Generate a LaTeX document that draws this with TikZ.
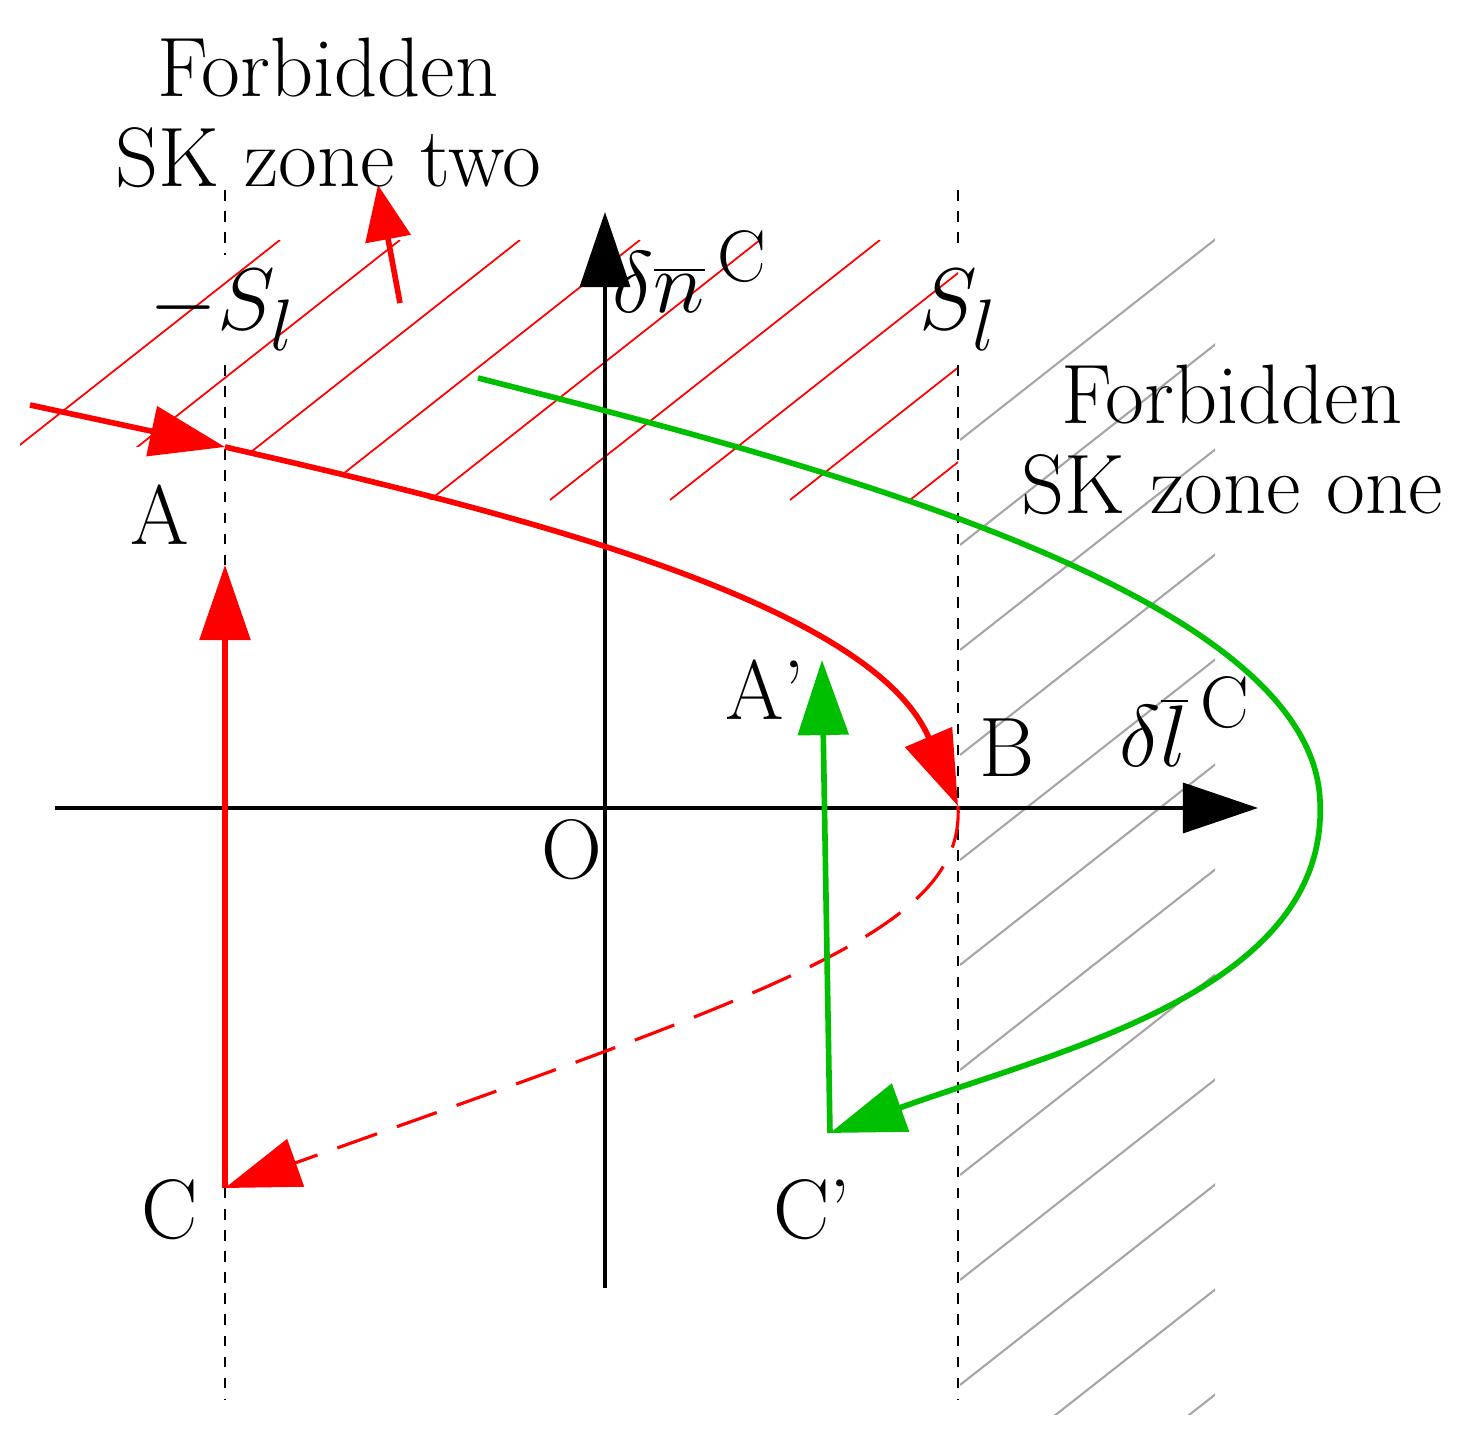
\documentclass[tikz,border=0pt]{standalone}
\usetikzlibrary{arrows.meta}
\begin{document}
\begin{tikzpicture}[x=0.01cm,y=-0.01cm,
  big/.style={-{Triangle[length=0.75cm,width=0.5cm]}},
  axis/.style={line width=1pt,big},
  redl/.style={red,line width=1.6pt},
  grnl/.style={green!75!black,line width=1.6pt},
  hatchr/.style={red,line width=0.5pt},
  hatchg/.style={gray!70,line width=0.6pt},
  guide/.style={dashed,line width=0.6pt},
  lab/.style={font=\fontsize{24}{28}\selectfont},
  mlab/.style={font=\fontsize{30}{34}\selectfont}]
\useasboundingbox (0,0) rectangle (1465,1437);
% hatching red
\begin{scope}
\clip (20,240) -- (958,240) -- (958,805) -- (935,755) -- (900,710) -- (850,668) -- (800,640) -- (745,615) -- (640,570) -- (540,530) -- (450,505) -- (350,478) -- (225,447) -- (20,447) -- cycle;
\foreach \b in {0,120,240,360,480,600,720,840,960} {
  \draw[hatchr] (\b-50,500) -- (\b+280,240);
}
\end{scope}
% gray hatching
\begin{scope}
\clip (960,235) rectangle (1215,1415);
\foreach \k in {0,...,11} {
  \draw[hatchg] (960,440+\k*105) -- (1240,220+\k*105);
}
\end{scope}
% guides
\draw[guide] (225,190) -- (225,255);
\draw[guide] (225,365) -- (225,1400);
\draw[guide] (958,190) -- (958,245);
\draw[guide] (958,365) -- (958,1400);
% axes
\coordinate (xs) at (55,808); \coordinate (xe) at (1258,808);
\coordinate (ys) at (605,1288); \coordinate (ye) at (605,212);
\draw[axis] (xs) -- (xe);
\draw[axis] (ys) -- (ye);
% red
\coordinate (A) at (225,447); \coordinate (B) at (958,806); \coordinate (C) at (225,1188);
\coordinate (Ain) at (30,405); \coordinate (Cup) at (225,565);
\draw[redl,dash pattern=on 40pt off 12pt,big] (Ain) -- (A);
\draw[redl,big] (A) .. controls (500,510) and (870,600) .. (B);
\draw[red,line width=0.9pt,dash pattern=on 12pt off 6pt,big] (B) .. controls (965,930) and (780,990) .. (C);
\draw[redl,big] (C) -- (Cup);
\coordinate (s1) at (400,303); \coordinate (s2) at (378,185);
\draw[red,line width=1.6pt,-{Triangle[length=0.55cm,width=0.45cm]}] (s1) -- (s2);
% green
\coordinate (G0) at (478,378); \coordinate (G1) at (1320,800); \coordinate (Cp) at (830,1133); \coordinate (Ap) at (822,660);
\draw[grnl] (G0) .. controls (800,460) and (1310,590) .. (G1);
\draw[grnl,big] (G1) .. controls (1330,990) and (1060,1050) .. (Cp);
\draw[grnl,big] (Cp) -- (Ap);
% labels
\node[lab] (t1) at (328,68) {Forbidden};
\node[lab] (t2) at (328,158) {SK zone two};
\node[lab] (t3) at (1232,395) {Forbidden};
\node[lab] (t4) at (1232,485) {SK zone one};
\node[mlab] (ln) at (690,272) {$\delta\overline{n}^{\,\mathrm{C}}$};
\node[mlab] (lm) at (222,310) {$-S_l$};
\node[mlab] (lp) at (958,310) {$S_l$};
\node[mlab] (ll) at (1185,722) {$\delta\overline{l}^{\,\mathrm{C}}$};
\node[lab] (la) at (160,515) {A};
\node[lab] (lap) at (765,690) {A'};
\node[lab] (lb) at (1007,748) {B};
\node[lab] (lo) at (572,850) {O};
\node[lab] (lc) at (170,1210) {C};
\node[lab] (lcp) at (812,1210) {C'};
\end{tikzpicture}
\end{document}
